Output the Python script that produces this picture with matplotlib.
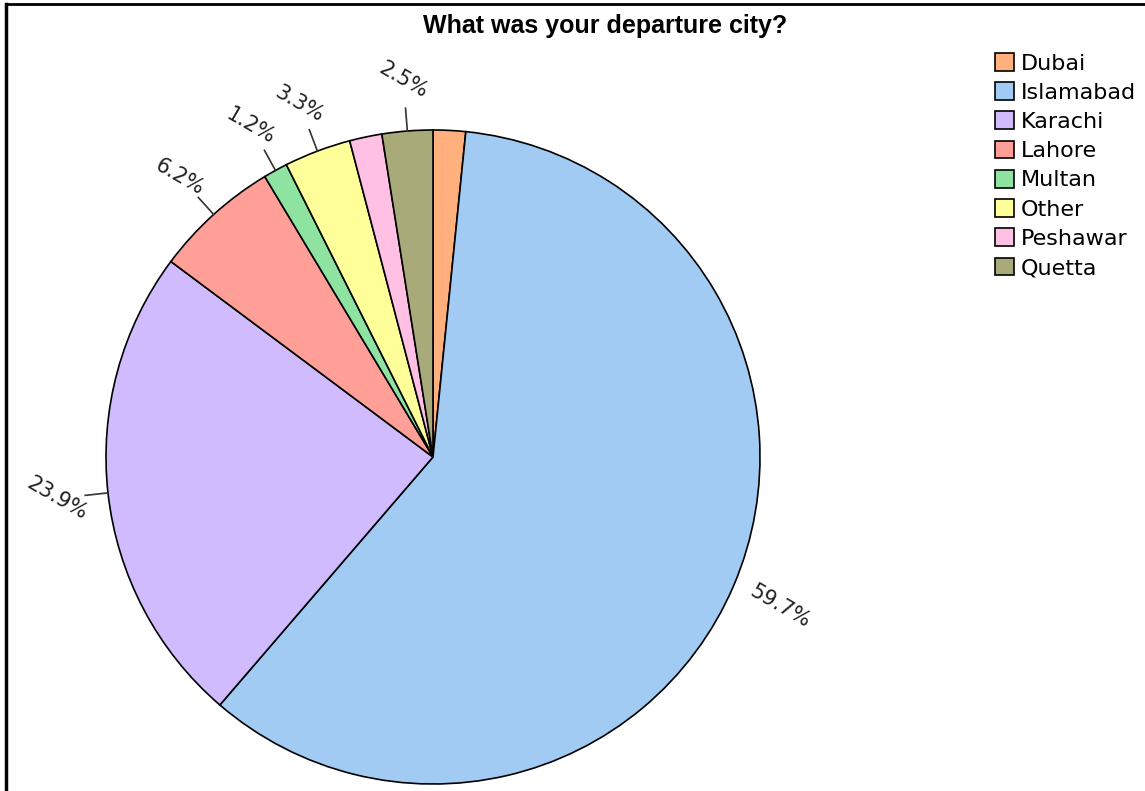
import numpy as np
import matplotlib.pyplot as plt
from matplotlib.patches import Patch
from matplotlib.lines import Line2D

cities = ['Dubai', 'Islamabad', 'Karachi', 'Lahore', 'Multan', 'Other', 'Peshawar', 'Quetta']
shares = [1.6, 59.7, 23.9, 6.2, 1.2, 3.3, 1.6, 2.5]
show_label = [False, True, True, True, True, True, False, True]
show_tick = [False, False, True, True, True, True, False, True]
colors = ['#ffb07c', '#a1cbf2', '#cfbbfd', '#ff9f98', '#8ee3a0', '#ffff99', '#ffc0e4', '#a9aa7a']

fig = plt.figure(figsize=(11.45, 7.91), dpi=100)
W, H = 1145, 791
cx, cy, r = 433, 457, 327
ax = fig.add_axes([(cx - r) / W, (H - cy - r) / H, 2 * r / W, 2 * r / H])

wedges, _ = ax.pie(shares, colors=colors, startangle=90, counterclock=False,
                   wedgeprops=dict(edgecolor='black', linewidth=1.2))
ax.set_xlim(-1, 1)
ax.set_ylim(-1, 1)
ax.set_aspect('equal')

for w, val, show, tick in zip(wedges, shares, show_label, show_tick):
    if not show:
        continue
    a = np.deg2rad((w.theta1 + w.theta2) / 2)
    c, s = np.cos(a), np.sin(a)
    if tick:
        ax.plot([c * 1.0, c * 1.07], [s * 1.0, s * 1.07], color='#333333', lw=1.2, clip_on=False)
    ax.text(c * 1.155, s * 1.155, f'{val}%', rotation=-30, ha='center', va='center',
            fontsize=15, color='#222222', family='DejaVu Sans')

fig.text(605 / W, 1 - 26 / H, 'What was your departure city?', ha='center', va='center',
         fontsize=18, fontweight='bold', family='Liberation Sans')

handles = [Patch(facecolor=col, edgecolor='black', linewidth=1.2) for col in colors]
fig.legend(handles, cities, loc='upper left', bbox_to_anchor=(995 / W, 1 - 53 / H),
           frameon=False, prop=dict(family='DejaVu Sans', size=16), handlelength=0.85,
           handleheight=0.85, handletextpad=0.3, labelspacing=0.39, borderaxespad=0,
           borderpad=0)

fig.add_artist(Line2D([6 / W, 1], [1 - 4 / H, 1 - 4 / H], color='black', lw=2))
fig.add_artist(Line2D([6 / W, 6 / W], [0, 1 - 4 / H], color='black', lw=2.5))

fig.savefig('out.png', dpi=100, facecolor='white')
